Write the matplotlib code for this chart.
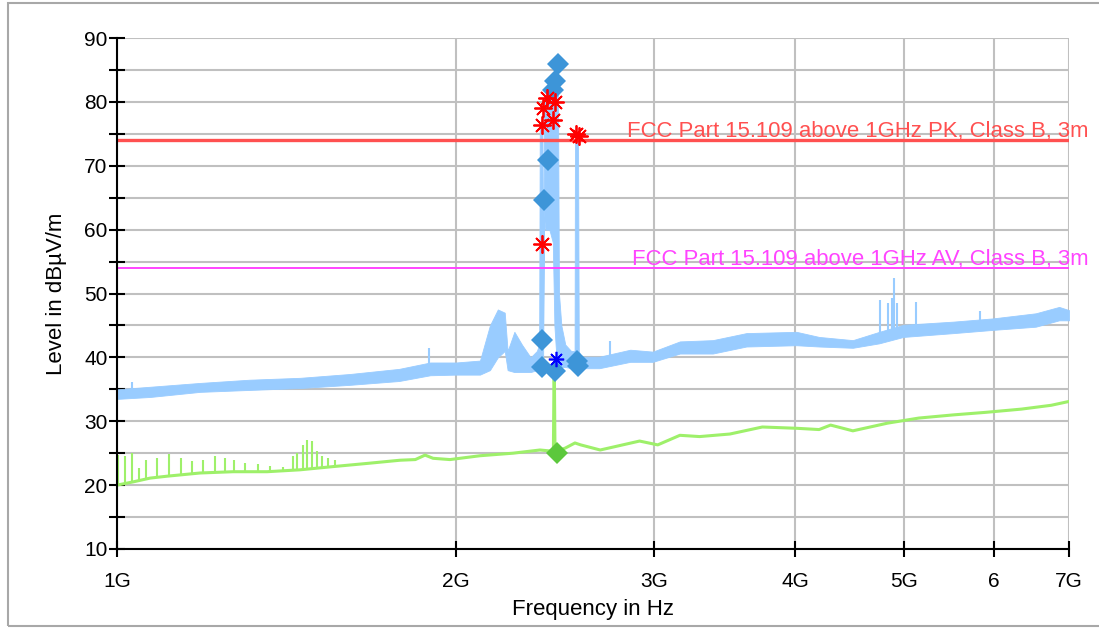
import numpy as np
import matplotlib
matplotlib.use("Agg")
import matplotlib.pyplot as plt
from matplotlib.patches import Rectangle
from matplotlib.ticker import FixedLocator, NullLocator

plt.rcParams['font.family'] = ['Liberation Sans', 'DejaVu Sans']

# peak trace, read as a band (GHz, low dB, high dB)
pk_f = [1.00, 1.07, 1.185, 1.31, 1.454, 1.61, 1.78, 1.897, 2.00, 2.10, 2.143, 2.178,
        2.209, 2.222, 2.253, 2.288, 2.329, 2.359, 2.370, 2.373, 2.386, 2.389, 2.394,
        2.400, 2.42, 2.437, 2.445, 2.455, 2.463, 2.468, 2.48, 2.50, 2.53, 2.548, 2.550,
        2.566, 2.570, 2.58, 2.68, 2.855, 2.99, 3.16, 3.38, 3.62, 4.01, 4.2, 4.5, 4.75,
        4.99, 5.53, 5.99, 6.54, 6.86, 7.00]
pk_lo = [33.5, 33.8, 34.6, 34.9, 35.2, 35.7, 36.3, 37.2, 37.3, 37.3, 38.0, 40.0,
         41.0, 38.0, 37.7, 37.7, 37.7, 38.0, 38.0, 38.0, 38.0, 38.0, 62.0,
         60.0, 60.0, 58.0, 45.0, 40.0, 39.0, 38.5, 38.5, 38.5, 38.3, 38.3, 38.3,
         38.3, 38.3, 38.3, 38.3, 39.3, 39.3, 40.6, 40.6, 41.7, 41.9, 41.7, 41.5, 42.2,
         43.2, 43.8, 44.3, 44.8, 45.8, 45.8]
pk_hi = [35.0, 35.4, 36.0, 36.5, 36.8, 37.4, 38.2, 39.2, 39.2, 39.5, 45.0, 47.5,
         47.0, 41.0, 44.0, 42.0, 40.0, 41.0, 42.0, 76.5, 77.5, 45.0, 80.0,
         81.0, 81.5, 82.0, 82.0, 81.5, 81.0, 50.0, 45.0, 42.0, 41.0, 41.0, 75.0,
         75.0, 41.0, 40.1, 40.1, 41.2, 40.9, 42.5, 42.7, 43.8, 44.0, 43.2, 42.7, 44.0,
         45.1, 45.6, 46.1, 46.9, 47.9, 47.4]
# narrow spikes on the peak trace (GHz, low, high)
pk_spk_f = [1.031, 1.892, 2.74, 4.757, 4.835, 4.875, 4.895, 4.925, 5.121, 5.836]
pk_spk_lo = [34.5, 38.0, 39.5, 43.0, 43.0, 43.0, 43.0, 43.0, 44.0, 44.5]
pk_spk_hi = [36.2, 41.5, 42.5, 49.0, 48.5, 49.3, 52.4, 48.5, 48.7, 47.2]

# average trace (GHz, dB)
av_f = [1.000, 1.033, 1.07, 1.108, 1.185, 1.268, 1.359, 1.454, 1.555, 1.668, 1.784,
        1.84, 1.877, 1.908, 1.975, 2.10, 2.247, 2.374, 2.44, 2.443, 2.445, 2.448,
        2.50, 2.55, 2.58, 2.685, 2.91, 3.02, 3.16, 3.29, 3.5, 3.74, 4.01, 4.2, 4.30,
        4.5, 4.83, 5.15, 5.53, 5.91, 6.35, 6.75, 7.00]
av_lvl = [20.0, 20.5, 21.1, 21.4, 21.9, 22.1, 22.1, 22.4, 22.9, 23.4, 23.9,
          24.0, 24.7, 24.2, 24.0, 24.6, 25.0, 25.5, 25.3, 37.0, 37.0, 25.2,
          25.8, 26.6, 26.3, 25.5, 26.9, 26.3, 27.8, 27.6, 28.0, 29.1, 28.9, 28.7, 29.4,
          28.5, 29.7, 30.5, 31.0, 31.4, 31.9, 32.5, 33.1]
av_spk_f = [1.002, 1.016, 1.031, 1.046, 1.061, 1.085, 1.112, 1.14, 1.166, 1.192, 1.222,
            1.247, 1.27, 1.30, 1.334, 1.367, 1.404, 1.433, 1.445, 1.462, 1.475, 1.49,
            1.505, 1.52, 1.54, 1.56]
av_spk_lo = [20.0, 20.2, 20.5, 20.7, 21.0, 21.2, 21.4, 21.6, 21.7, 21.9, 22.0,
             22.1, 22.1, 22.1, 22.1, 22.1, 22.2, 22.3, 22.4, 22.4, 22.5, 22.6,
             22.7, 22.8, 22.9, 23.0]
av_spk_hi = [24.7, 24.5, 25.1, 22.7, 23.9, 24.2, 24.9, 24.2, 23.7, 23.9, 24.6,
             24.2, 23.9, 23.5, 23.3, 23.0, 22.8, 24.6, 25.0, 26.3, 27.1, 26.9,
             25.3, 24.5, 24.3, 23.9]

# final measurement markers
pk_diam_f = [2.4615, 2.448, 2.439, 2.4129, 2.3933, 2.382, 2.382, 2.448, 2.559, 2.567]
pk_diam_v = [85.9, 83.2, 81.9, 70.9, 64.6, 42.7, 38.5, 37.8, 39.5, 38.7]
pre_f = [2.3823, 2.390, 2.4067, 2.4479, 2.4394, 2.5534, 2.569, 2.3823]
pre_v = [76.4, 79.0, 80.6, 80.0, 77.2, 75.0, 74.7, 57.8]
av_star_f = [2.453]
av_star_v = [39.7]
av_diam_f = [2.456]
av_diam_v = [25.1]

lim_pk = 74
lim_av = 54
lim_pk_txt = "FCC Part 15.109 above 1GHz PK, Class B, 3m"
lim_av_txt = "FCC Part 15.109 above 1GHz AV, Class B, 3m"

xt = [1, 2, 3, 4, 5, 6, 7]
xt_lab = ["1G", "2G", "3G", "4G", "5G", "6", "7G"]

G = 1e9
fig = plt.figure(figsize=(10.99, 6.28), dpi=100)
ax = fig.add_axes([117/1099, 1-549/628, 952/1099, 511/628])

fig.patches.append(Rectangle((8/1099, 2/628), 1.2, 1-5/628, transform=fig.transFigure,
                             fill=False, ec='#a8a8a8', lw=1.5, zorder=0))

pkc = '#99ccff'
ax.fill_between(np.array(pk_f)*G, pk_lo, pk_hi, color=pkc, lw=0.6, zorder=3)
ax.vlines(np.array(pk_spk_f)*G, pk_spk_lo, pk_spk_hi, color=pkc, lw=1.5, zorder=3)

avc = '#9ef06a'
ax.plot(np.array(av_f)*G, av_lvl, color=avc, lw=2.2, zorder=3)
ax.vlines(np.array(av_spk_f)*G, av_spk_lo, av_spk_hi, color=avc, lw=1.5, zorder=3)

ax.axhline(lim_pk, color='#ff5050', lw=2.4, zorder=4)
ax.axhline(lim_av, color='#ff44ff', lw=1.4, zorder=4)
ax.text(7.28*G, lim_pk+0.45, lim_pk_txt, color='#ff5050', fontsize=15.9,
        ha='right', va='baseline', clip_on=False, zorder=5)
ax.text(7.28*G, lim_av+0.45, lim_av_txt, color='#ff44ff', fontsize=15.9,
        ha='right', va='baseline', clip_on=False, zorder=5)

ax.plot(np.array(pk_diam_f)*G, pk_diam_v, 'D', color='#3d95d8', ms=11, mew=0, zorder=6)
ax.plot(np.array(pre_f)*G, pre_v, marker=(8, 2, 0), ls='none', color='#ff0000',
        ms=13, mew=1.3, zorder=7)
ax.plot(np.array(av_star_f)*G, av_star_v, marker=(8, 2, 0), ls='none', color='#0000ff',
        ms=11, mew=1.2, zorder=7)
ax.plot(np.array(av_diam_f)*G, av_diam_v, 'D', color='#5cc83c', ms=11, mew=0, zorder=6)

ax.set_xscale('log')
ax.set_xlim(1*G, 7*G)
ax.set_ylim(10, 90)
ax.xaxis.set_major_locator(FixedLocator(np.array(xt)*G))
ax.xaxis.set_minor_locator(NullLocator())
ax.set_xticklabels(xt_lab)
ax.yaxis.set_major_locator(FixedLocator(range(10, 91, 10)))
ax.yaxis.set_minor_locator(FixedLocator(range(15, 90, 10)))

ax.grid(True, which='both', axis='y', color='#c0c0c0', lw=1.5, zorder=1)
ax.grid(True, which='major', axis='x', color='#c0c0c0', lw=1.5, zorder=1)
ax.set_axisbelow(True)

for s in ['top', 'right']:
    ax.spines[s].set_visible(False)
for s in ['left', 'bottom']:
    ax.spines[s].set_linewidth(1.5)
    ax.spines[s].set_zorder(8)

ax.tick_params(axis='both', which='both', direction='inout', length=11.5, width=1.5,
               labelsize=15)
ax.tick_params(axis='y', pad=1)
ax.tick_params(axis='x', pad=11)

ax.set_xlabel("Frequency in Hz", fontsize=16)
ax.set_ylabel("Level in dBµV/m", fontsize=16)
ax.xaxis.set_label_coords(0.5, -0.098)
ax.yaxis.set_label_coords(-0.052, 0.5)

fig.savefig("out.png", dpi=100)
